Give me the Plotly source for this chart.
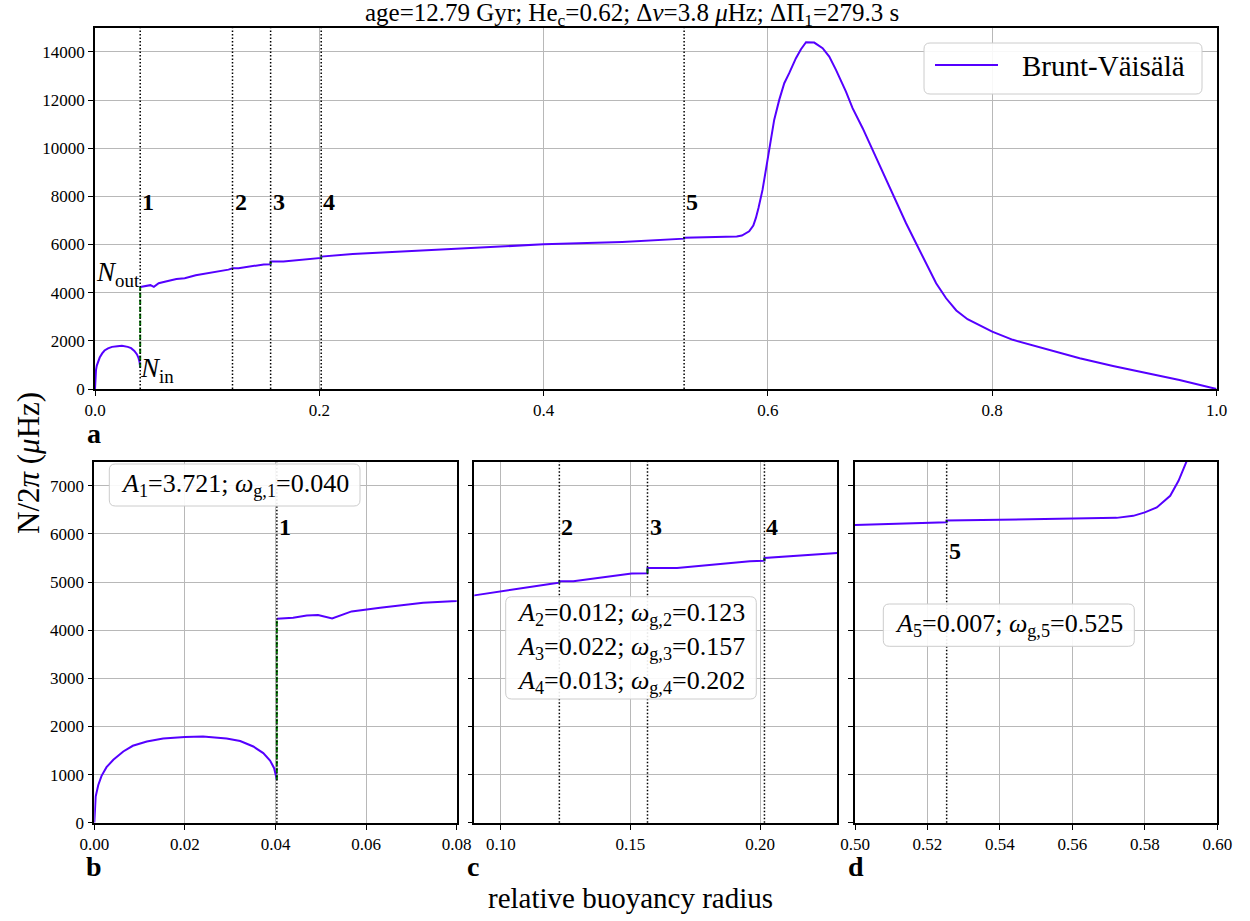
import plotly.graph_objects as go

W, H = 1250, 921

# ---------------- data ----------------
# radiative core part (below the first glitch)
x_core = [0.0, 0.0003, 0.00088, 0.0016, 0.0027, 0.0042, 0.0064, 0.0085, 0.0116,
          0.0152, 0.0200, 0.0240, 0.0292, 0.0322, 0.0351, 0.0373, 0.0388, 0.0397,
          0.0403]
n_core = [0, 542, 785, 973, 1154, 1306, 1479, 1598, 1688,
          1750, 1779, 1792, 1750, 1696, 1583, 1446, 1292, 1133,
          890]

# outer part (above the first glitch)
x_env = [0.0403, 0.0439, 0.0469, 0.0494, 0.0525, 0.0568, 0.0631, 0.0726, 0.0800,
         0.0898, 0.1190, 0.1226, 0.1226, 0.1280, 0.1505, 0.1566, 0.1566, 0.1680,
         0.1961, 0.2017, 0.2017, 0.2298, 0.3000, 0.4000, 0.4700, 0.5253, 0.5253,
         0.5400, 0.5603, 0.5722, 0.5768, 0.5800, 0.5833, 0.5870, 0.5893, 0.5916,
         0.5952, 0.5982, 0.6012, 0.6056, 0.6101, 0.6146, 0.6190, 0.6250, 0.6295,
         0.6340, 0.6413, 0.6488, 0.6547, 0.6607, 0.6696, 0.6755, 0.6845, 0.6920,
         0.6994, 0.7113, 0.7232, 0.7321, 0.7411, 0.7500, 0.7589, 0.7680, 0.7780,
         0.7887, 0.8000, 0.8184, 0.8480, 0.8780, 0.9077, 0.9375, 0.9670, 1.0000]
n_env = [4237, 4258, 4306, 4313, 4244, 4390, 4466, 4570, 4604,
         4723, 4958, 4987, 5014, 5014, 5175, 5180, 5292, 5292,
         5431, 5444, 5500, 5604, 5770, 6010, 6110, 6244, 6279,
         6300, 6321, 6333, 6375, 6446, 6550, 6792, 7104, 7521,
         8268, 9098, 10000, 11176, 12007, 12700, 13116, 13739, 14113,
         14404, 14387, 14154, 13806, 13253, 12352, 11662, 10831, 10067,
         9377, 8100, 6884, 6053, 5222, 4391, 3768, 3260, 2900,
         2640, 2381, 2042, 1654, 1279, 958, 654, 375, 0]

# glitches
glitch_id = [1, 2, 3, 4, 5]
omega_g = [0.0403, 0.1226, 0.1566, 0.2017, 0.5253]
amp_A = [3.721, 0.012, 0.022, 0.013, 0.007]
n_in = [890, 4987, 5180, 5444, 6244]
n_out = [4237, 5014, 5292, 5500, 6279]

title_txt = ("age=12.79 Gyr; He<sub>c</sub>=0.62; Δ<i>ν</i>=3.8 <i>μ</i>Hz; "
             "ΔΠ<sub>1</sub>=279.3 s")

PURPLE = '#5500ff'
FONT = 'Liberation Serif'


def fx(px):
    return px / W


def fy(py):
    return 1 - py / H


fig = go.Figure()

# panel definitions: (axis suffix, x domain px, y domain px, x range, y range, glitches shown)
panels = [
    ('', (95.0, 1216.5), (28.3, 389.0), [0, 1.0], [0, 14980], [0, 1, 2, 3, 4]),
    ('2', (94.3, 456.7), (461.7, 822.7), [0, 0.08], [0, 7500], [0]),
    ('3', (474.3, 837.3), (461.7, 822.7), [0.0898, 0.2298], [0, 7500], [1, 2, 3]),
    ('4', (855.0, 1217.3), (461.7, 822.7), [0.50, 0.60], [0, 7500], [4]),
]

shapes = []
annotations = []

axis_common = dict(showline=True, linecolor='black', linewidth=1.6, mirror=True,
                   ticks='outside', ticklen=5, tickwidth=1.2, tickcolor='black',
                   showgrid=True, gridcolor='#b8b8b8', gridwidth=1, zeroline=False,
                   automargin=False,
                   tickfont=dict(family=FONT, size=17, color='black'))

for k, (sfx, xd, yd, xr, yr, gl) in enumerate(panels):
    xa = 'x' + sfx
    ya = 'y' + sfx
    # curve
    fig.add_trace(go.Scatter(x=x_core, y=n_core, mode='lines', xaxis=xa, yaxis=ya,
                             line=dict(color=PURPLE, width=2), name='Brunt-Väisälä',
                             showlegend=False, hoverinfo='skip'))
    fig.add_trace(go.Scatter(x=x_env, y=n_env, mode='lines', xaxis=xa, yaxis=ya,
                             line=dict(color=PURPLE, width=2), name='Brunt-Väisälä',
                             showlegend=False, hoverinfo='skip'))
    # green jumps
    for i in range(len(omega_g)):
        fig.add_trace(go.Scatter(x=[omega_g[i], omega_g[i]], y=[n_in[i], n_out[i]],
                                 mode='lines', xaxis=xa, yaxis=ya,
                                 line=dict(color='#008000', width=2, dash='5px,2px'),
                                 showlegend=False, hoverinfo='skip'))
    # dotted glitch lines + labels
    for i in gl:
        shapes.append(dict(type='line', xref=xa, yref=ya + ' domain', x0=omega_g[i],
                           x1=omega_g[i], y0=0, y1=1, layer='above',
                           line=dict(color='black', width=1.5, dash='1.5px,2px')))
        if k == 0:
            ly = 7750
        elif k == 3:
            ly = 5650
        else:
            ly = 6150
        annotations.append(dict(xref=xa, yref=ya, x=omega_g[i], y=ly,
                                text='<b>%d</b>' % glitch_id[i], showarrow=False,
                                xanchor='left', yanchor='middle', xshift=0,
                                font=dict(family=FONT, size=24, color='black')))

    xdict = dict(axis_common, domain=[fx(xd[0]), fx(xd[1])], range=xr, anchor=ya)
    ydict = dict(axis_common, domain=[fy(yd[1]), fy(yd[0])], range=yr, anchor=xa,
                 tickformat='d')
    if k == 0:
        xdict.update(tick0=0, dtick=0.2, tickformat='.1f')
        ydict.update(tick0=0, dtick=2000)
    elif k == 1:
        xdict.update(tick0=0, dtick=0.02, tickformat='.2f')
        ydict.update(tick0=0, dtick=1000)
    elif k == 2:
        xdict.update(tick0=0, dtick=0.05, tickformat='.2f')
        ydict.update(tick0=0, dtick=1000, showticklabels=False)
    else:
        xdict.update(tick0=0, dtick=0.02, tickformat='.2f')
        ydict.update(tick0=0, dtick=1000, showticklabels=False)
    fig.update_layout(**{'xaxis' + sfx: xdict, 'yaxis' + sfx: ydict})


def rounded_box(x0, y0, x1, y1, r=6):
    p = (f"M {fx(x0 + r)},{fy(y0)} L {fx(x1 - r)},{fy(y0)} "
         f"Q {fx(x1)},{fy(y0)} {fx(x1)},{fy(y0 + r)} L {fx(x1)},{fy(y1 - r)} "
         f"Q {fx(x1)},{fy(y1)} {fx(x1 - r)},{fy(y1)} L {fx(x0 + r)},{fy(y1)} "
         f"Q {fx(x0)},{fy(y1)} {fx(x0)},{fy(y1 - r)} L {fx(x0)},{fy(y0 + r)} "
         f"Q {fx(x0)},{fy(y0)} {fx(x0 + r)},{fy(y0)} Z")
    return dict(type='path', xref='paper', yref='paper', path=p,
                fillcolor='rgba(255,255,255,0.9)', line=dict(color='#cccccc', width=1),
                layer='above')


def amp_text(i):
    return ('<i>A</i><sub>%d</sub>=%.3f; <i>ω</i><sub>g,%d</sub>=%.3f'
            % (glitch_id[i], amp_A[i], glitch_id[i], omega_g[i]))


# legend (drawn manually to mimic the reference)
shapes.append(rounded_box(924, 43, 1202, 94))
shapes.append(dict(type='line', xref='paper', yref='paper', x0=fx(935), x1=fx(998),
                   y0=fy(65), y1=fy(65), line=dict(color=PURPLE, width=2), layer='above'))
annotations.append(dict(xref='paper', yref='paper', x=fx(1020), y=fy(66),
                        text='Brunt-Väisälä', showarrow=False, xanchor='left',
                        yanchor='middle', font=dict(family=FONT, size=29, color='black')))

# amplitude boxes
box_font = dict(family=FONT, size=26, color='black')
shapes.append(rounded_box(109.3, 464, 360, 506))
annotations.append(dict(xref='paper', yref='paper', x=fx(234.7), y=fy(485),
                        text=amp_text(0), showarrow=False, xanchor='center',
                        yanchor='middle', font=box_font))
shapes.append(rounded_box(505.7, 596.7, 756.3, 699))
annotations.append(dict(xref='paper', yref='paper', x=fx(631), y=fy(648),
                        text='<br>'.join(amp_text(i) for i in [1, 2, 3]),
                        showarrow=False, xanchor='center', yanchor='middle',
                        align='left', font=box_font))
shapes.append(rounded_box(883.3, 604, 1134.3, 646.3))
annotations.append(dict(xref='paper', yref='paper', x=fx(1008.8), y=fy(625),
                        text=amp_text(4), showarrow=False, xanchor='center',
                        yanchor='middle', font=box_font))

# N_out / N_in labels in panel a
annotations.append(dict(xref='x', yref='y', x=omega_g[0], y=n_out[0],
                        text='<i>N</i><sub>out</sub>', showarrow=False,
                        xanchor='right', yanchor='bottom', xshift=2, yshift=-6,
                        font=dict(family=FONT, size=27, color='black')))
annotations.append(dict(xref='x', yref='y', x=omega_g[0], y=n_in[0],
                        text='<i>N</i><sub>in</sub>', showarrow=False,
                        xanchor='left', yanchor='middle', xshift=-2, yshift=-2,
                        font=dict(family=FONT, size=27, color='black')))

# panel letters
for letter, px, py in [('a', 85, 433), ('b', 84, 866), ('c', 465, 866), ('d', 846, 866)]:
    annotations.append(dict(xref='paper', yref='paper', x=fx(px), y=fy(py),
                            text='<b>%s</b>' % letter, showarrow=False,
                            xanchor='left', yanchor='middle',
                            font=dict(family=FONT, size=28, color='black')))

# axis titles and title
annotations.append(dict(xref='paper', yref='paper', x=fx(630), y=fy(898),
                        text='relative buoyancy radius', showarrow=False,
                        xanchor='center', yanchor='middle',
                        font=dict(family=FONT, size=29, color='black')))
annotations.append(dict(xref='paper', yref='paper', x=fx(28), y=fy(463),
                        text='N/2<i>π</i> (<i>μ</i>Hz)', showarrow=False,
                        textangle=-90, xanchor='center', yanchor='middle',
                        font=dict(family=FONT, size=31, color='black')))
annotations.append(dict(xref='paper', yref='paper', x=fx(632), y=fy(14),
                        text=title_txt, showarrow=False,
                        xanchor='center', yanchor='middle',
                        font=dict(family=FONT, size=25, color='black')))

fig.update_layout(width=W, height=H, autosize=False,
                  margin=dict(l=0, r=0, t=0, b=0),
                  font=dict(family=FONT, color='black'),
                  paper_bgcolor='white', plot_bgcolor='white',
                  showlegend=False, shapes=shapes, annotations=annotations)

fig.write_html('out.html', config={'displayModeBar': False},
               post_script="document.body.style.margin='0px';"
                           "document.body.style.overflow='hidden';")
